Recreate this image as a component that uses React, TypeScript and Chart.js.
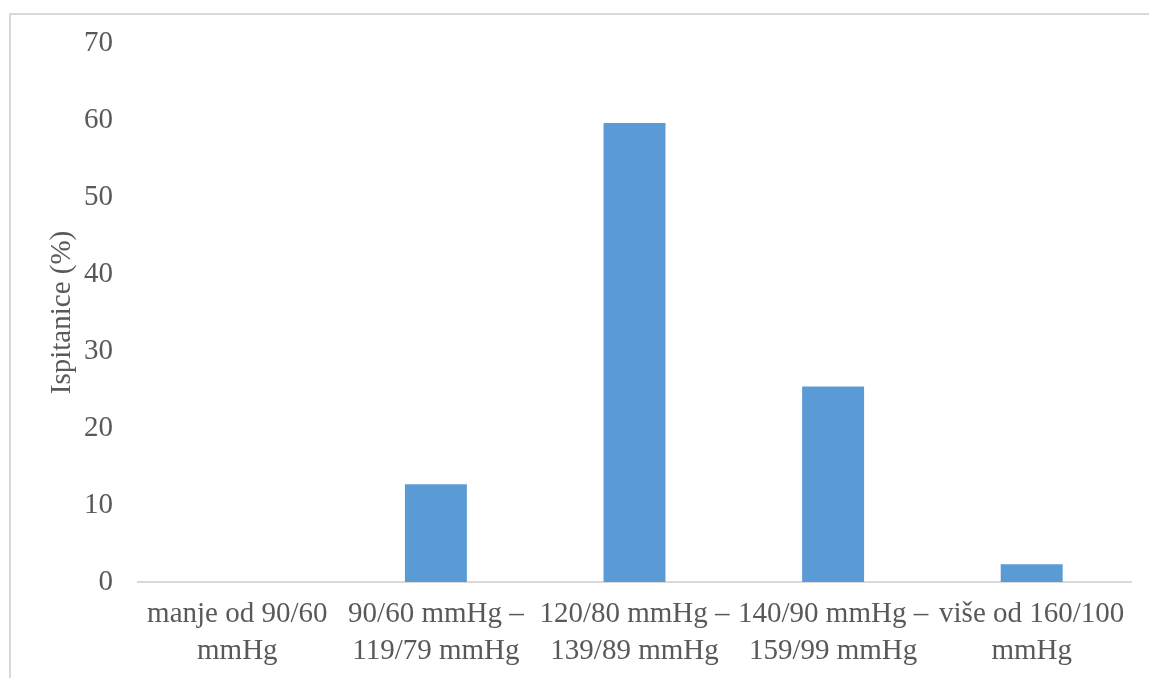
import React, { useEffect, useRef } from "react";
import { Chart, registerables } from "chart.js";

Chart.register(...registerables);

const categories: string[][] = [
  ["manje od 90/60", "mmHg"],
  ["90/60 mmHg –", "119/79 mmHg"],
  ["120/80 mmHg –", "139/89 mmHg"],
  ["140/90 mmHg –", "159/99 mmHg"],
  ["više od 160/100", "mmHg"],
];
const values: number[] = [0, 12.7, 59.6, 25.4, 2.3];
const yTitle = "Ispitanice (%)";
const yMin = 0;
const yMax = 70;
const yStep = 10;

const FONT = "'Liberation Serif', 'Times New Roman', serif";
const TEXT = "#595959";

export default function App() {
  const ref = useRef<HTMLCanvasElement | null>(null);

  useEffect(() => {
    if (!ref.current) return;
    const chart = new Chart(ref.current, {
      type: "bar",
      data: {
        labels: categories,
        datasets: [
          {
            data: values,
            backgroundColor: "#5B9BD5",
            borderWidth: 0,
            categoryPercentage: 1,
            barPercentage: 0.312,
          },
        ],
      },
      options: {
        animation: false,
        responsive: false,
        devicePixelRatio: 1,
        layout: { padding: { top: 43, right: 18, left: 0, bottom: 0 } },
        plugins: {
          legend: { display: false },
          tooltip: { enabled: false },
        },
        scales: {
          x: {
            grid: { display: false, drawTicks: false },
            border: { display: true, color: "#d9d9d9", width: 2 },
            ticks: {
              color: TEXT,
              font: { family: FONT, size: 29, lineHeight: 1.28 },
              padding: 14,
              maxRotation: 0,
              autoSkip: false,
            },
            afterFit: (s: any) => {
              s.height = 96;
            },
          },
          y: {
            min: yMin,
            max: yMax,
            grid: { display: false, drawTicks: false },
            border: { display: false },
            ticks: {
              stepSize: yStep,
              color: TEXT,
              font: { family: FONT, size: 29 },
              padding: 25,
            },
            title: {
              display: true,
              text: yTitle,
              color: TEXT,
              font: { family: FONT, size: 29, lineHeight: 1.2 },
              padding: { top: 45, bottom: 0 },
            },
            afterFit: (s: any) => {
              s.width = 138;
            },
          },
        },
      },
    });
    return () => chart.destroy();
  }, []);

  return (
    <div
      style={{
        position: "fixed",
        left: 0,
        top: 0,
        width: 1149,
        height: 678,
        background: "#fff",
        overflow: "hidden",
      }}
    >
      <div
        style={{
          position: "absolute",
          left: 9,
          top: 13,
          width: 1200,
          height: 700,
          borderLeft: "2px solid #d9d9d9",
          borderTop: "2px solid #d9d9d9",
        }}
      />
      <canvas
        ref={ref}
        width={1149}
        height={678}
        style={{ position: "absolute", left: 0, top: 0 }}
      />
    </div>
  );
}
